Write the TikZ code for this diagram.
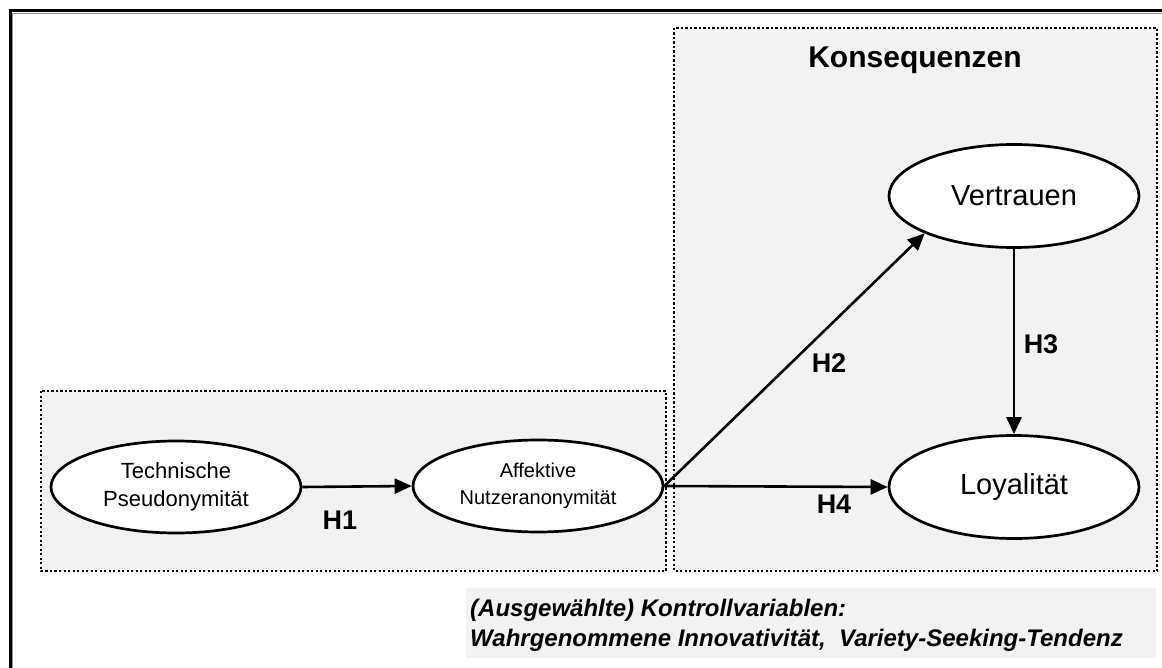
\documentclass[tikz,border=0pt]{standalone}
\usepackage{fontspec}
\setmainfont{Liberation Sans}
\usetikzlibrary{arrows.meta,shapes.geometric}
\definecolor{panel}{HTML}{F2F2F2}
\begin{document}
\begin{tikzpicture}[x=1pt,y=-1pt,
  latent/.style={ellipse,draw=black,line width=2.7pt,fill=white,inner sep=0pt,
    minimum width=250pt,minimum height=92pt,align=center},
  group/.style={fill=panel,draw=black,line width=2.2pt,dash pattern=on 2.2pt off 2.3pt},
  link/.style={line width=2.6pt,-{Triangle[length=17pt,width=15pt]}},
  hyp/.style={font=\fontsize{27}{27}\selectfont\bfseries,anchor=base,inner sep=0pt},
  note/.style={font=\fontsize{24}{30}\selectfont\bfseries\itshape,anchor=base west,inner sep=0pt},
]
\useasboundingbox (0,0) rectangle (1162,668);
\fill[white] (0,0) rectangle (1162,668);

% outer frame with its thin grey inner edge
\draw[black!45,line width=1pt] (12.5,668) -- (12.5,13.5) -- (1162,13.5);
\draw[black,line width=3pt,line join=miter] (10,668) -- (10,11) -- (1162,11);

% dotted group panels
\draw[group] (41,391) rectangle (666,571);
\draw[group] (674,28) rectangle (1157,571);
\node[font=\fontsize{30}{30}\selectfont\bfseries,anchor=base,inner sep=0pt] (cons) at (915,68) {Konsequenzen};

% control variables
\fill[panel] (466,588) rectangle (1156,658);
\node[note] (ctrla) at (470,616) {(Ausgewählte) Kontrollvariablen:};
\node[note] (ctrlb) at (470,646) {Wahrgenommene Innovativität,\ \ Variety-Seeking-Tendenz};

% constructs
\node[latent,font=\fontsize{22}{28}\selectfont] (tech) at (176,487) {Technische\\Pseudonymität};
\node[latent,font=\fontsize{20}{27}\selectfont] (aff) at (538,486) {Affektive\\Nutzeranonymität};
\node[latent,minimum height=103pt,font=\fontsize{29}{29}\selectfont] (vert) at (1014,196) {Vertrauen};
\node[latent,minimum height=103pt,font=\fontsize{29}{29}\selectfont] (loy) at (1014,487) {Loyalität};

% hypothesised paths
\draw[link] (tech.east) -- (aff.west);
\draw[link] (aff.east) -- (vert.south west);
\draw[link] (vert.south) -- (loy.north);
\draw[link] (aff.east) -- (loy.west);

\node[hyp] (h1) at (340,529) {H1};
\node[hyp] (h2) at (829,372) {H2};
\node[hyp] (h3) at (1041,353) {H3};
\node[hyp] (h4) at (834,513) {H4};
\end{tikzpicture}
\end{document}
